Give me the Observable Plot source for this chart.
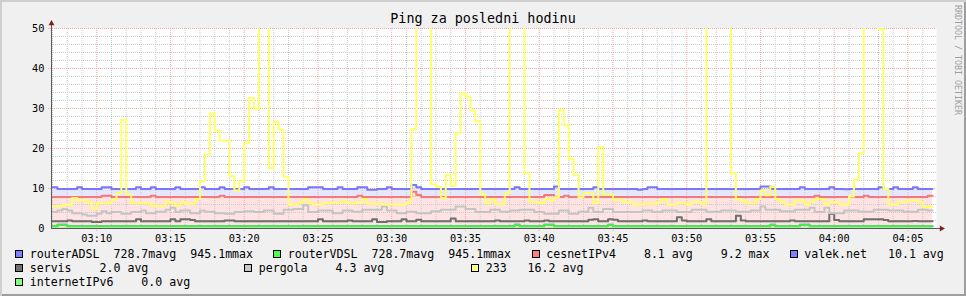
<!DOCTYPE html>
<html><head><meta charset="utf-8">
<script src="https://cdn.jsdelivr.net/npm/d3@7"></script>
<script src="https://cdn.jsdelivr.net/npm/@observablehq/plot@0.6"></script>
<style>
body{margin:0;background:#fff;}
#wrap{position:relative;width:966px;height:296px;background:#F0F0F0;box-shadow:inset 2px 2px 0 #CFCFCF, inset -2px -2px 0 #9E9E9E;overflow:hidden;font-family:"DejaVu Sans Mono",monospace;}
#title{position:absolute;left:0;top:11px;width:966px;text-align:center;font-size:13.4px;line-height:16px;color:#000;white-space:pre;}
#chart{position:absolute;left:0;top:0;}
.sw{position:absolute;width:8px;height:8px;box-sizing:border-box;border:1px solid #000;}
.lt{position:absolute;font-size:11.6px;line-height:14px;white-space:pre;color:#000;}
#wm{position:absolute;left:953px;top:5px;writing-mode:vertical-rl;font-size:8.3px;line-height:10px;color:#A0A0A0;white-space:pre;}
</style></head>
<body>
<div id="wrap">
  <div id="chart"></div>
  <div id="title"></div>
  <div id="wm"></div>
</div>
<script>
// ---- data ----
const chartTitle = "Ping za posledni hodinu";
const watermark = "RRDTOOL / TOBI OETIKER";
const timeStart = "03:06:56";
const timeEnd = "04:06:56";
const firstStep = "03:07:00";
const stepSeconds = 20;
const yTicks = [0, 10, 20, 30, 40, 50];
const xTickLabels = ["03:10","03:15","03:20","03:25","03:30","03:35","03:40","03:45","03:50","03:55","04:00","04:05"];

const routerADSL = [
0.55,0.95,0.95,0.55,0.55,0.55,0.55,0.55,0.55,0.55,
0.55,0.55,0.55,0.55,0.55,0.55,0.55,0.55,0.55,0.55,
0.55,0.55,0.55,0.55,0.55,0.55,0.55,0.55,0.55,0.55,
0.55,0.55,0.55,0.55,0.55,0.55,0.55,0.55,0.55,0.55,
0.55,0.55,0.55,0.55,0.55,0.55,0.55,0.55,0.55,0.55,
0.55,0.55,0.55,0.55,0.55,0.55,0.55,0.55,0.55,0.55,
0.55,0.55,0.55,0.55,0.55,0.55,0.55,0.55,0.55,0.55,
0.55,0.55,0.55,0.55,0.55,0.55,0.55,0.55,0.55,0.55,
0.55,0.55,0.55,0.55,0.55,0.55,0.55,0.55,0.55,0.55,
0.55,0.55,0.55,0.55,0.95,0.55,0.55,0.55,0.55,0.55,
0.95,0.95,0.55,0.55,0.55,0.55,0.55,0.55,0.55,0.55,
0.55,0.55,0.55,0.95,0.55,0.55,0.55,0.55,0.55,0.55,
0.55,0.55,0.55,0.55,0.55,0.55,0.55,0.55,0.55,0.55,
0.55,0.55,0.55,0.55,0.55,0.55,0.55,0.55,0.55,0.55,
0.55,0.55,0.55,0.55,0.55,0.55,0.95,0.55,0.55,0.55,
0.55,0.55,0.95,0.95,0.55,0.55,0.55,0.55,0.55,0.55,
0.55,0.55,0.55,0.55,0.55,0.55,0.55,0.55,0.55,0.55,
0.55,0.55,0.55,0.55,0.55,0.55,0.55,0.55,0.55];
const routerVDSL = [
0.55,0.95,0.95,0.55,0.55,0.55,0.55,0.55,0.55,0.55,
0.55,0.55,0.55,0.55,0.55,0.55,0.55,0.55,0.55,0.55,
0.55,0.55,0.55,0.55,0.55,0.55,0.55,0.55,0.55,0.55,
0.55,0.55,0.55,0.55,0.55,0.55,0.55,0.55,0.55,0.55,
0.55,0.55,0.55,0.55,0.55,0.55,0.55,0.55,0.55,0.55,
0.55,0.55,0.55,0.55,0.55,0.55,0.55,0.55,0.55,0.55,
0.55,0.55,0.55,0.55,0.55,0.55,0.55,0.55,0.55,0.55,
0.55,0.55,0.55,0.55,0.55,0.55,0.55,0.55,0.55,0.55,
0.55,0.55,0.55,0.55,0.55,0.55,0.55,0.55,0.55,0.55,
0.55,0.55,0.55,0.55,0.95,0.55,0.55,0.55,0.55,0.55,
0.95,0.95,0.55,0.55,0.55,0.55,0.55,0.55,0.55,0.55,
0.55,0.55,0.55,0.95,0.55,0.55,0.55,0.55,0.55,0.55,
0.55,0.55,0.55,0.55,0.55,0.55,0.55,0.55,0.55,0.55,
0.55,0.55,0.55,0.55,0.55,0.55,0.55,0.55,0.55,0.55,
0.55,0.55,0.55,0.55,0.55,0.55,0.95,0.55,0.55,0.55,
0.55,0.55,0.95,0.95,0.55,0.55,0.55,0.55,0.55,0.55,
0.55,0.55,0.55,0.55,0.55,0.55,0.55,0.55,0.55,0.55,
0.55,0.55,0.55,0.55,0.55,0.55,0.55,0.55,0.55];
const cesnetIPv4 = [
7.9,7.9,7.9,7.9,7.9,7.9,7.9,7.9,7.9,7.9,
8.2,8.2,7.9,7.9,7.9,7.9,7.9,7.9,7.9,7.9,
8.2,7.9,7.9,7.9,7.9,7.9,7.9,7.9,7.9,7.9,
7.9,7.9,7.9,7.9,8.2,7.9,7.9,7.9,7.9,7.9,
7.9,7.9,7.9,7.9,7.9,7.9,7.9,7.9,7.9,7.9,
7.9,7.9,7.9,7.9,7.9,7.9,7.9,7.9,7.9,7.9,
7.9,7.9,8.2,7.9,7.9,7.9,7.9,7.9,7.9,7.9,
7.9,7.9,7.9,9.2,8.4,7.9,7.9,7.9,7.9,7.9,
7.9,7.9,7.9,7.9,7.9,7.9,7.9,7.9,7.9,7.9,
7.9,7.9,7.9,7.9,7.9,7.9,7.9,7.9,7.9,7.9,
8.4,8.4,7.9,7.9,8.2,7.9,7.9,7.9,7.9,7.9,
7.9,7.9,7.9,7.9,7.9,7.9,7.9,7.9,7.9,7.9,
7.9,7.9,7.9,7.9,7.9,7.9,7.9,7.9,7.9,7.9,
7.9,7.9,7.9,7.9,7.9,7.9,7.9,7.9,7.9,7.9,
7.9,7.9,7.9,7.9,7.9,7.9,7.9,7.9,7.9,7.9,
7.9,7.9,7.9,7.9,7.9,8.2,7.9,7.9,7.9,7.9,
7.9,7.9,7.9,7.9,7.9,8.2,7.9,7.9,7.9,7.9,
7.9,7.9,7.9,7.9,7.9,7.9,7.9,7.9,8.2];
const valekNet = [
10.3,9.9,9.9,9.9,9.9,10.3,9.9,9.9,9.9,9.9,
10.3,10.3,9.9,9.9,9.9,9.9,9.9,10.3,9.9,9.9,
10.3,9.9,9.9,9.9,9.9,10.3,9.9,9.9,9.9,9.9,
10.3,9.9,9.9,9.9,10.3,9.9,9.9,9.9,9.9,10.3,
9.9,9.9,9.9,9.9,10.3,9.9,9.9,9.9,9.9,9.9,
9.9,9.9,10.3,10.3,10.3,9.9,9.9,9.9,10.3,9.9,
9.9,9.9,10.3,10.3,9.7,9.7,9.9,9.9,10.3,9.9,
9.9,9.9,9.9,10.9,10.3,9.9,9.9,9.9,9.9,9.9,
9.9,9.9,9.9,9.9,9.9,9.9,9.9,9.9,9.9,9.9,
9.9,9.9,9.9,9.9,10.3,9.9,9.9,9.9,9.9,9.9,
9.9,9.9,10.5,9.9,9.9,9.9,9.9,9.9,9.9,9.9,
10.3,9.9,9.9,9.9,9.9,9.9,9.9,9.9,9.9,9.7,
9.9,10.3,10.3,9.9,9.9,9.9,9.9,9.9,9.9,9.9,
9.9,9.9,9.9,9.9,9.9,9.9,9.9,9.9,9.9,9.9,
9.9,9.9,9.9,9.9,10.5,10.5,9.9,9.9,9.9,9.9,
9.9,9.9,10.3,9.9,9.9,9.9,9.9,9.9,10.3,9.9,
9.9,9.8,9.9,9.9,9.9,9.9,9.9,9.9,10.3,9.9,
9.9,10.3,9.9,9.9,9.9,10.3,9.9,9.9,9.9];
const servis = [
1.8,1.8,1.8,2.0,1.8,1.8,1.8,1.8,1.6,1.6,
1.8,1.8,1.8,1.8,1.8,1.8,1.8,2.3,1.8,1.8,
1.8,1.8,1.8,1.8,2.3,1.8,2.3,2.3,2.1,1.8,
1.8,1.8,1.8,1.8,1.8,2.0,2.0,1.8,1.8,1.8,
1.8,1.8,1.8,1.8,1.8,1.8,1.8,1.8,1.8,1.8,
1.8,1.8,1.8,1.8,2.3,1.8,1.8,1.8,1.8,1.8,
2.0,1.8,1.8,1.8,1.8,2.3,1.6,1.6,1.8,1.8,
1.8,2.3,1.8,1.8,2.2,1.8,1.8,1.8,1.8,1.8,
1.8,2.5,1.8,1.8,1.8,1.8,1.8,1.8,1.8,1.8,
2.0,1.8,1.8,1.8,1.8,1.8,2.0,1.8,1.8,1.8,
2.0,1.8,1.8,1.8,1.8,1.8,1.8,1.8,1.8,2.2,
2.3,1.8,1.8,2.3,2.2,1.8,1.8,1.8,1.8,1.8,
2.0,1.8,1.8,1.8,1.8,1.8,1.8,2.8,2.0,1.8,
1.8,1.8,1.8,2.3,1.8,1.8,1.8,1.8,1.8,3.2,
2.0,1.8,1.8,1.8,1.8,1.8,1.8,1.8,1.8,1.8,
2.0,1.8,1.8,1.8,1.8,1.8,1.8,1.8,3.6,2.1,
1.8,1.8,1.8,1.8,1.8,2.3,2.3,2.3,2.3,2.1,
1.8,1.8,1.8,1.8,1.8,1.9,1.8,1.8,1.8];
const pergola = [
4.1,4.5,4.9,4.5,3.8,3.8,3.5,3.2,3.2,3.7,
4.3,3.8,4.1,4.1,3.7,3.7,4.1,4.1,4.5,3.8,
3.8,4.2,4.2,4.7,5.2,4.1,4.5,4.5,3.8,3.8,
4.5,4.2,4.2,3.8,3.8,3.7,3.7,4.1,4.1,4.3,
4.3,4.1,4.1,4.5,4.5,3.7,3.7,4.7,4.7,4.9,
4.9,5.8,4.1,4.1,4.5,4.5,4.5,3.8,3.8,4.5,
4.5,4.2,4.2,4.7,4.7,4.7,4.7,5.5,4.5,4.5,
3.8,3.8,4.2,4.2,3.8,3.8,3.8,4.3,4.3,4.7,
4.7,4.7,5.5,5.5,4.9,4.9,4.1,4.1,4.1,4.7,
4.7,4.2,4.2,4.5,4.5,4.7,4.7,4.7,4.1,4.1,
3.7,3.7,3.7,4.5,4.5,3.7,3.7,4.2,4.2,5.2,
4.1,4.1,4.9,4.9,4.1,4.1,4.1,4.1,4.1,4.1,
4.5,4.5,4.1,4.1,4.5,4.5,4.5,4.1,4.1,4.1,
4.7,4.7,4.7,4.2,4.2,4.2,4.5,4.5,4.5,4.2,
4.2,4.2,4.5,4.5,5.5,4.7,4.7,4.7,4.3,4.3,
4.3,4.7,4.7,4.7,5.2,4.1,4.1,5.2,3.8,3.8,
3.8,4.5,4.5,4.5,4.2,4.2,4.2,4.7,4.7,4.7,
4.5,4.5,4.5,4.2,4.2,4.2,4.7,4.7,4.5];
const s233 = [
5.6,5.6,5.9,5.9,7.6,7.0,7.0,6.6,5.0,6.3,
6.3,6.3,7.2,8.8,27.2,8.5,6.3,6.3,6.3,6.3,
5.7,5.7,5.7,6.7,6.3,5.7,6.6,6.2,6.2,7.4,
11.8,18.5,28.8,24.5,22.0,22.0,13.1,9.5,11.8,21.3,
32.7,29.9,80,80,15.1,26.6,24.7,12.8,6.0,6.0,
6.5,7.4,6.3,6.0,6.0,6.3,6.3,6.5,6.5,6.8,
6.3,6.3,6.5,7.4,6.2,6.2,6.2,6.0,6.0,6.0,
6.0,6.0,6.5,24.9,80,80,80,11.0,10.5,7.6,
13.4,10.7,23.8,33.8,33.0,29.5,26.8,8.5,6.3,7.4,
6.2,6.2,8.8,80,80,80,13.8,6.6,6.6,6.3,
7.4,7.0,7.8,29.7,25.8,17.4,13.3,7.8,8.8,8.8,
6.3,20.3,8.5,8.5,7.2,7.2,6.6,6.6,6.0,6.0,
6.2,6.2,6.2,6.6,7.4,6.0,6.0,6.3,6.3,6.0,
6.6,6.6,6.2,80,80,80,80,80,13.8,7.4,
7.0,6.3,6.3,7.4,9.5,8.3,10.5,7.4,6.6,6.0,
6.0,7.0,7.0,6.0,6.6,7.4,7.4,6.0,6.6,6.6,
6.0,6.0,8.0,12.2,18.8,80,80,80,49.9,9.9,
6.0,6.0,6.6,6.6,7.0,7.0,6.6,5.4,5.4];
const internetIPv6 = [
0,0,0,0,0,0,0,0,0,0, 0,0,0,0,0,0,0,0,0,0, 0,0,0,0,0,0,0,0,0,0,
0,0,0,0,0,0,0,0,0,0, 0,0,0,0,0,0,0,0,0,0, 0,0,0,0,0,0,0,0,0,0,
0,0,0,0,0,0,0,0,0,0, 0,0,0,0,0,0,0,0,0,0, 0,0,0,0,0,0,0,0,0,0,
0,0,0,0,0,0,0,0,0,0, 0,0,0,0,0,0,0,0,0,0, 0,0,0,0,0,0,0,0,0,0,
0,0,0,0,0,0,0,0,0,0, 0,0,0,0,0,0,0,0,0,0, 0,0,0,0,0,0,0,0,0,0,
0,0,0,0,0,0,0,0,0,0, 0,0,0,0,0,0,0,0,0,0, 0,0,0,0,0,0,0,0,0];

const legendLabels = [
  ["routerADSL  728.7mavg  945.1mmax", "routerVDSL  728.7mavg  945.1mmax", "cesnetIPv4    8.1 avg    9.2 max", "valek.net   10.1 avg"],
  ["servis    2.0 avg", "pergola    4.3 avg", "233   16.2 avg"],
  ["internetIPv6    0.0 avg"]
];

// ---- styles / layout ----
const legendColors = [
  ["#7F7FFF", "#4CFF4C", "#FF7F7F", "#7F7FFF"],
  ["#707070", "#C8C8C8", "#FFFF80"],
  ["#80FF80"]
];
const legendX = [[15, 273, 531.5, 789.5], [15, 244, 471], [15]];
const legendY = [250, 264, 278];

const lineSeries = [
  {values: routerADSL, color: "#7F7FFF"},
  {values: routerVDSL, color: "#44F044"},
  {values: cesnetIPv4, color: "#F47A7A"},
  {values: valekNet, color: "#7878FA"},
  {values: servis, color: "#6E6E6E"},
  {values: pergola, color: "#C4C4C4"},
  {values: s233, color: "#FFFF66"},
  {values: internetIPv6, color: "#80FF80"}
];

const T = s => { const [h, m, sec = 0] = s.split(":").map(Number); return new Date(Date.UTC(2024, 0, 1, h, m, sec)); };
const start = T(timeStart), end = T(timeEnd), t0 = T(firstStep);
function toPoints(values) {
  const pts = values.map((v, i) => ({t: i === 0 ? start : new Date(+t0 + stepSeconds * 1000 * i), v}));
  pts.push({t: new Date(+t0 + stepSeconds * 1000 * values.length), v: values[values.length - 1]});
  return pts;
}
const xTicks = xTickLabels.map(T);
const minutes = d3.utcMinute.range(start, end);
const majorMin = minutes.filter(d => d.getUTCMinutes() % 5 === 0);
const minorMin = minutes.filter(d => d.getUTCMinutes() % 5 !== 0);
const minorY = d3.range(2, 50, 2).filter(v => v % 10 !== 0);
const majorY = yTicks.filter(v => v > 0);

const gridMinor = "#CACACA", gridMajor = "#F2A8A8";

const marks = [
  Plot.frame({fill: "white", stroke: "none"}),
  Plot.areaY(toPoints(valekNet), {x: "t", y: "v", curve: "step-after", fill: "#E6E6FF"}),
  Plot.areaY(toPoints(cesnetIPv4), {x: "t", y: "v", curve: "step-after", fill: "#FFE2E2"}),
  Plot.ruleX(minorMin, {stroke: gridMinor, strokeDasharray: "1,1"}),
  Plot.ruleY(minorY, {stroke: gridMinor, strokeDasharray: "1,1"}),
  Plot.ruleX(majorMin, {stroke: gridMajor, strokeDasharray: "1,1", insetBottom: -3}),
  Plot.ruleY(majorY, {stroke: gridMajor, strokeDasharray: "1,1", insetLeft: -3}),
  ...lineSeries.map(s => Plot.lineY(toPoints(s.values), {x: "t", y: "v", curve: "step-after", stroke: s.color, strokeWidth: 2, clip: true})),
  Plot.ruleX([start], {stroke: "#5A5A5A", insetTop: -4}),
  Plot.ruleY([0], {stroke: "#5A5A5A", insetRight: -4}),
  Plot.dot([start], {x: d => d, y: () => 50, dy: -5, symbol: "triangle", r: 2.2, fill: "#7F1F1F", stroke: "none"}),
  Plot.dot([end], {x: d => d, y: () => 0, dx: 5, symbol: "triangle", rotate: 90, r: 2.2, fill: "#7F1F1F", stroke: "none"}),
  Plot.axisY({ticks: yTicks, tickSize: 0, tickPadding: 7, tickFormat: d => String(d), label: null}),
  Plot.axisX({ticks: xTicks, tickSize: 0, tickPadding: 6, tickFormat: d3.utcFormat("%H:%M"), label: null})
];

const chart = Plot.plot({
  width: 966, height: 250,
  marginLeft: 51, marginRight: 30, marginTop: 28, marginBottom: 22,
  style: {background: "transparent", fontFamily: "'DejaVu Sans Mono', monospace", fontSize: "10.3px", color: "#000", overflow: "visible"},
  x: {type: "utc", domain: [start, end], label: null},
  y: {domain: [0, 50], label: null},
  marks
});
document.getElementById("chart").appendChild(chart);
document.getElementById("title").textContent = chartTitle;
document.getElementById("wm").textContent = watermark;

const wrap = document.getElementById("wrap");
legendLabels.forEach((row, r) => row.forEach((label, c) => {
  const sw = document.createElement("div");
  sw.className = "sw";
  sw.style.left = legendX[r][c] + "px";
  sw.style.top = legendY[r] + "px";
  sw.style.background = legendColors[r][c];
  wrap.appendChild(sw);
  const tx = document.createElement("div");
  tx.className = "lt";
  tx.style.left = (legendX[r][c] + 14.7) + "px";
  tx.style.top = (legendY[r] - 2.7) + "px";
  tx.textContent = label;
  wrap.appendChild(tx);
}));
</script>
</body></html>
